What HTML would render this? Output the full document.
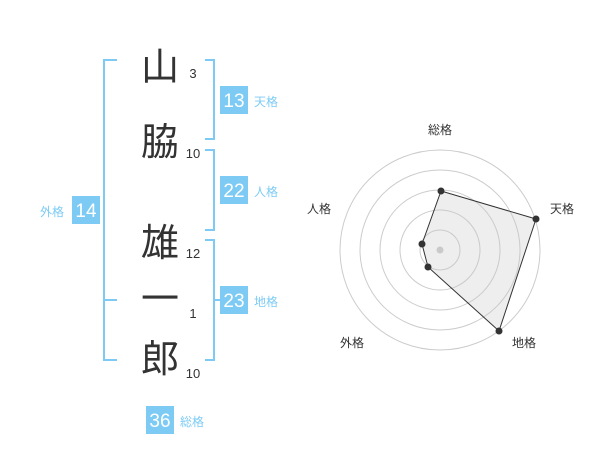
<!DOCTYPE html>
<html><head><meta charset="utf-8"><style>
body{margin:0;width:600px;height:470px;background:#fff;overflow:hidden;font-family:"Liberation Sans","Noto Sans CJK JP",sans-serif;}
svg text{font-family:"Liberation Sans","Noto Sans CJK JP",sans-serif;}
</style></head><body>
<svg width="600" height="470" viewBox="0 0 600 470">
<g stroke="#7dcbf5" stroke-width="2" fill="none">
<path d="M117 60H104V360H117M104 300H117"/>
<path d="M205 60H214V139H205"/>
<path d="M205 150H214V230H205"/>
<path d="M205 240H214V360H205M214 300H222"/>
</g>
<g fill="#7dcbf5">
<rect x="220" y="86" width="28" height="28"/>
<rect x="220" y="176" width="28" height="28"/>
<rect x="220" y="286" width="28" height="28"/>
<rect x="72" y="196" width="28" height="28"/>
<rect x="146" y="406" width="28" height="28"/>
</g>
<g fill="#fff" font-size="19" text-anchor="middle">
<text x="234" y="107">13</text><text x="234" y="197">22</text><text x="234" y="307">23</text>
<text x="86" y="217">14</text><text x="160" y="427">36</text>
</g>
<g fill="#7dcbf5" font-size="12">
<text x="254" y="106">天格</text><text x="254" y="196">人格</text><text x="254" y="306">地格</text>
<text x="40" y="216">外格</text><text x="180" y="426">総格</text>
</g>
<g fill="#333" font-size="38" text-anchor="middle">
<text x="160" y="80">山</text><text x="160" y="155">脇</text><text x="160" y="256">雄</text>
<text x="160" y="312">一</text><text x="160" y="372">郎</text>
</g>
<g fill="#333" font-size="13" text-anchor="middle">
<text x="193" y="78">3</text><text x="193" y="158">10</text><text x="193" y="258">12</text>
<text x="193" y="318">1</text><text x="193" y="378">10</text>
</g>
<g stroke="#ccc" fill="none" stroke-width="1">
<circle cx="440" cy="250" r="100"/><circle cx="440" cy="250" r="80"/><circle cx="440" cy="250" r="60"/><circle cx="440" cy="250" r="40"/><circle cx="440" cy="250" r="20"/>
</g>
<circle cx="440" cy="250" r="3.5" fill="#ccc"/>
<polygon points="441,191 536,219 499,331 428,267 422,244" fill="rgba(200,200,200,0.3)" stroke="#333" stroke-width="1"/>
<g fill="#333">
<circle cx="441" cy="191" r="3.5"/><circle cx="536" cy="219" r="3.5"/><circle cx="499" cy="331" r="3.5"/><circle cx="428" cy="267" r="3.5"/><circle cx="422" cy="244" r="3.5"/>
</g>
<g fill="#333" font-size="12" text-anchor="middle">
<text x="440" y="134">総格</text><text x="562" y="213">天格</text><text x="524" y="347">地格</text>
<text x="352" y="347">外格</text><text x="319" y="213">人格</text>
</g>
</svg>
</body></html>
